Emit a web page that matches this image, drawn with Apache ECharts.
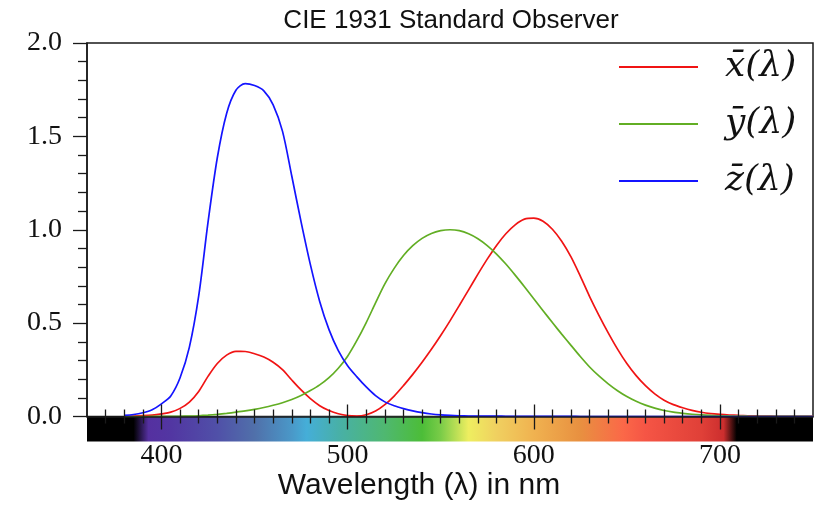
<!DOCTYPE html>
<html>
<head>
<meta charset="utf-8">
<script src="https://cdn.jsdelivr.net/npm/echarts@6/dist/echarts.min.js"></script>
<style>
  html, body { margin: 0; padding: 0; background: #fff; }
  #chart { width: 819px; height: 508px; }
</style>
</head>
<body>
<div id="chart"></div>
<script>
// CIE 1931 2 degree colour matching functions, 5 nm steps
var wavelengths = [380, 385, 390, 395, 400, 405, 410, 415, 420, 425, 430, 435, 440, 445, 450, 455, 460, 465, 470, 475,
  480, 485, 490, 495, 500, 505, 510, 515, 520, 525, 530, 535, 540, 545, 550, 555, 560, 565, 570, 575,
  580, 585, 590, 595, 600, 605, 610, 615, 620, 625, 630, 635, 640, 645, 650, 655, 660, 665, 670, 675,
  680, 685, 690, 695, 700, 705, 710, 715, 720, 725, 730, 735, 740, 745, 750];

var xBar = [0.0014, 0.0022, 0.0042, 0.0077, 0.0143, 0.0232, 0.0435, 0.0776, 0.1344, 0.2148, 0.2839, 0.3285, 0.3483, 0.3481, 0.3362, 0.3187, 0.2908, 0.2511, 0.1954, 0.1421,
  0.0956, 0.0580, 0.0320, 0.0147, 0.0049, 0.0024, 0.0093, 0.0291, 0.0633, 0.1096, 0.1655, 0.2257, 0.2904, 0.3597, 0.4334, 0.5121, 0.5945, 0.6784, 0.7621, 0.8425,
  0.9163, 0.9786, 1.0263, 1.0567, 1.0622, 1.0456, 1.0026, 0.9384, 0.8544, 0.7514, 0.6424, 0.5419, 0.4479, 0.3608, 0.2835, 0.2187, 0.1649, 0.1212, 0.0874, 0.0636,
  0.0468, 0.0329, 0.0227, 0.0158, 0.0114, 0.0081, 0.0058, 0.0041, 0.0029, 0.0020, 0.0014, 0.0010, 0.0007, 0.0005, 0.0003];

var yBar = [0.0000, 0.0001, 0.0001, 0.0002, 0.0004, 0.0006, 0.0012, 0.0022, 0.0040, 0.0073, 0.0116, 0.0168, 0.0230, 0.0298, 0.0380, 0.0480, 0.0600, 0.0739, 0.0910, 0.1126,
  0.1390, 0.1693, 0.2080, 0.2586, 0.3230, 0.4073, 0.5030, 0.6082, 0.7100, 0.7932, 0.8620, 0.9149, 0.9540, 0.9803, 0.9950, 1.0000, 0.9950, 0.9786, 0.9520, 0.9154,
  0.8700, 0.8163, 0.7570, 0.6949, 0.6310, 0.5668, 0.5030, 0.4412, 0.3810, 0.3210, 0.2650, 0.2170, 0.1750, 0.1382, 0.1070, 0.0816, 0.0610, 0.0446, 0.0320, 0.0232,
  0.0170, 0.0119, 0.0082, 0.0057, 0.0041, 0.0029, 0.0021, 0.0015, 0.0010, 0.0007, 0.0005, 0.0004, 0.0002, 0.0002, 0.0001];

var zBar = [0.0065, 0.0106, 0.0201, 0.0362, 0.0679, 0.1102, 0.2074, 0.3713, 0.6456, 1.0391, 1.3856, 1.6230, 1.7471, 1.7826, 1.7721, 1.7441, 1.6692, 1.5281, 1.2876, 1.0419,
  0.8130, 0.6162, 0.4652, 0.3533, 0.2720, 0.2123, 0.1582, 0.1117, 0.0783, 0.0573, 0.0422, 0.0298, 0.0203, 0.0134, 0.0088, 0.0058, 0.0039, 0.0028, 0.0021, 0.0018,
  0.0017, 0.0014, 0.0011, 0.0010, 0.0008, 0.0006, 0.0003, 0.0002, 0.0002, 0.0001, 0.0001, 0, 0, 0, 0, 0, 0, 0, 0, 0,
  0, 0, 0, 0, 0, 0, 0, 0, 0, 0, 0, 0, 0, 0, 0];

var seriesNames = ['x\u0304(\u03bb)', 'y\u0304(\u03bb)', 'z\u0304(\u03bb)'];
var seriesColors = ['#f01414', '#62ae24', '#1414ff'];

var majorTicks = [400, 500, 600, 700];
var minorTicks = [370, 380, 390, 410, 420, 430, 440, 450, 460, 470, 480, 490, 510, 520, 530, 540, 550, 560, 570, 580, 590,
  610, 620, 630, 640, 650, 660, 670, 680, 690, 710, 720, 730, 740];

// colour strip under the axis
var spectrumNm = [385, 393, 405, 430, 450, 470, 478, 495, 520, 540, 550, 565, 580, 600, 625, 648, 660, 690, 702, 709];
var spectrumColors = ['#000000', '#5530a0', '#5236a2', '#5050a8', '#5070aa', '#4a98c8', '#45aed8', '#48b0a8', '#4fb870', '#4cbd38',
  '#7acc48', '#eeee60', '#f0d060', '#f0b250', '#e89040', '#fb6848', '#f55545', '#e04038', '#cc2e2e', '#000000'];

var chart = echarts.init(document.getElementById('chart'));

var axisColor = '#1a1a1a';
var labelFont = { fontFamily: 'Liberation Serif', fontSize: 28, color: '#111' };

function tickAxis(values, len, inside, withLabels) {
  return {
    type: 'value', gridIndex: 0, min: 360, max: 750, position: 'bottom', z: 10,
    axisLine: { show: withLabels, onZero: false, lineStyle: { color: axisColor, width: 1.5 } },
    axisTick: { show: true, inside: inside, length: len, customValues: values, lineStyle: { color: axisColor, width: 1.3 } },
    axisLabel: withLabels ? Object.assign({ show: true, customValues: majorTicks, margin: 25 }, labelFont) : { show: false },
    splitLine: { show: false }
  };
}

var series = seriesNames.map(function (name, i) {
  var vals = [xBar, yBar, zBar][i];
  return {
    name: name, type: 'line', xAxisIndex: 0, yAxisIndex: 0,
    data: wavelengths.map(function (w, j) { return [w, vals[j]]; }),
    showSymbol: false, symbol: 'none', z: 3,
    smooth: 0.3,
    lineStyle: { color: seriesColors[i], width: 1.7 },
    itemStyle: { color: seriesColors[i] }
  };
});

series.push({
  type: 'custom', xAxisIndex: 4, yAxisIndex: 1, silent: true, z: 1,
  data: [[360, 750]],
  renderItem: function (params, api) {
    var a = api.value(0), b = api.value(1);
    var p0 = api.coord([a, 0]);
    var p1 = api.coord([b, -1]);
    var stops = spectrumNm.map(function (nm, i) {
      return { offset: (nm - a) / (b - a), color: spectrumColors[i] };
    });
    return {
      type: 'rect',
      shape: { x: p0[0], y: p0[1], width: p1[0] - p0[0], height: p1[1] - p0[1] },
      style: { fill: new echarts.graphic.LinearGradient(0, 0, 1, 0, stops) }
    };
  }
});

chart.setOption({
  animation: false,
  graphic: [
    { type: 'text', x: 451, y: 21, style: { text: 'CIE 1931 Standard Observer', fontFamily: 'Liberation Sans', fontSize: 26, fill: '#111', textAlign: 'center', textVerticalAlign: 'middle' } },
    { type: 'text', x: 419, y: 486, style: { text: 'Wavelength (\u03bb) in nm', fontFamily: 'Liberation Sans', fontSize: 30, fill: '#111', textAlign: 'center', textVerticalAlign: 'middle' } }
  ],
  legend: {
    data: seriesNames, orient: 'vertical', left: 619, top: 47, padding: 0,
    icon: 'rect', itemWidth: 79, itemHeight: 2, itemGap: 17,
    textStyle: { fontFamily: 'DejaVu Serif', fontStyle: 'italic', fontSize: 36, lineHeight: 40, color: '#111', padding: [0, 0, 0, 22] }
  },
  grid: [
    { left: 87, right: 6, top: 43, bottom: 91.5, show: true, borderColor: axisColor, borderWidth: 1.5, backgroundColor: 'transparent' },
    { left: 87, right: 6, top: 416.5, height: 25, show: false }
  ],
  xAxis: [
    tickAxis(majorTicks, 12, true, false),
    tickAxis(majorTicks, 13, false, true),
    tickAxis(minorTicks, 7, true, false),
    tickAxis(minorTicks, 7, false, false),
    { type: 'value', gridIndex: 1, min: 360, max: 750, show: false }
  ],
  yAxis: [
    {
      type: 'value', gridIndex: 0, min: 0, max: 2, interval: 0.5,
      axisLine: { show: true, lineStyle: { color: axisColor, width: 1.5 } },
      axisTick: { show: true, length: 14, lineStyle: { color: axisColor, width: 1.3 } },
      minorTick: { show: true, splitNumber: 5, length: 9, lineStyle: { color: axisColor, width: 1.3 } },
      axisLabel: Object.assign({ margin: 25, formatter: function (v) { return v.toFixed(1); } }, labelFont),
      splitLine: { show: false }
    },
    { type: 'value', gridIndex: 1, min: -1, max: 0, show: false }
  ],
  series: series
});
</script>
</body>
</html>
